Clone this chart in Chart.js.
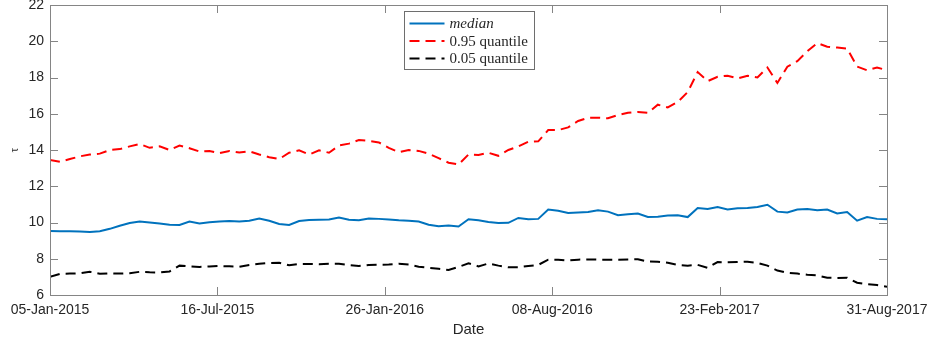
<!DOCTYPE html>
<html>
<head>
<meta charset="utf-8">
<script src="https://cdn.jsdelivr.net/npm/chart.js@4"></script>
<style>
  html, body { margin: 0; padding: 0; background: #fff; }
</style>
</head>
<body>
<canvas id="tau" width="930" height="345"></canvas>
<script>
// values, one sample every ~8 trading days
const tickLabels = ['05-Jan-2015', '16-Jul-2015', '26-Jan-2016', '08-Aug-2016', '23-Feb-2017', '31-Aug-2017'];

const median = [
  9.53, 9.52, 9.52, 9.50, 9.47, 9.52, 9.65, 9.82, 9.97, 10.05,
  10.00, 9.95, 9.88, 9.86, 10.05, 9.95, 10.02, 10.05, 10.08, 10.06,
  10.10, 10.22, 10.10, 9.92, 9.86, 10.08, 10.14, 10.15, 10.17, 10.28,
  10.15, 10.12, 10.22, 10.20, 10.17, 10.12, 10.10, 10.05, 9.88, 9.80,
  9.84, 9.78, 10.18, 10.12, 10.03, 9.97, 9.98, 10.25, 10.18, 10.20,
  10.72, 10.65, 10.52, 10.55, 10.58, 10.68, 10.60, 10.40, 10.45, 10.50,
  10.30, 10.32, 10.38, 10.40, 10.30, 10.80, 10.75, 10.86, 10.72, 10.78,
  10.80, 10.85, 10.98, 10.60, 10.55, 10.72, 10.74, 10.67, 10.72, 10.50,
  10.58, 10.10, 10.30, 10.20, 10.18
];

const q95 = [
  13.45, 13.35, 13.50, 13.65, 13.75, 13.80, 14.00, 14.05, 14.20, 14.33,
  14.12, 14.20, 14.00, 14.25, 14.10, 13.92, 13.95, 13.83, 13.95, 13.86,
  13.93, 13.75, 13.60, 13.50, 13.85, 13.98, 13.75, 13.98, 13.85, 14.25,
  14.35, 14.55, 14.50, 14.42, 14.12, 13.88, 14.00, 13.95, 13.80, 13.55,
  13.30, 13.20, 13.75, 13.72, 13.85, 13.68, 14.00, 14.20, 14.46, 14.48,
  15.10, 15.10, 15.25, 15.60, 15.78, 15.78, 15.75, 15.93, 16.05, 16.10,
  16.05, 16.50, 16.35, 16.65, 17.20, 18.30, 17.80, 18.04, 18.10, 17.95,
  18.10, 18.00, 18.55, 17.70, 18.60, 18.90, 19.45, 19.90, 19.70, 19.65,
  19.60, 18.60, 18.40, 18.55, 18.40
];

const q05 = [
  7.01, 7.16, 7.18, 7.20, 7.28, 7.17, 7.20, 7.18, 7.20, 7.28,
  7.25, 7.24, 7.30, 7.62, 7.58, 7.55, 7.57, 7.60, 7.58, 7.56,
  7.66, 7.72, 7.77, 7.78, 7.64, 7.71, 7.71, 7.70, 7.72, 7.72,
  7.65, 7.60, 7.66, 7.67, 7.68, 7.72, 7.68, 7.56, 7.50, 7.45,
  7.38, 7.55, 7.75, 7.58, 7.74, 7.62, 7.53, 7.53, 7.60, 7.66,
  7.95, 7.95, 7.90, 7.95, 7.96, 7.95, 7.95, 7.95, 7.96, 7.97,
  7.85, 7.84, 7.78, 7.66, 7.62, 7.66, 7.50, 7.82, 7.80, 7.82,
  7.84, 7.77, 7.62, 7.35, 7.22, 7.18, 7.12, 7.08, 6.95, 6.94,
  6.95, 6.68, 6.60, 6.55, 6.46
];

const tickStep = 135;                      // trading days between date ticks
const lastDay = tickStep * (tickLabels.length - 1);
const dayStep = lastDay / (median.length - 1);

const axisGrey = '#858585';
const textGrey = '#262626';
const sans = '"Liberation Sans", Arial, sans-serif';
const serif = '"Liberation Serif", "Times New Roman", serif';

function series(values){
    return values.map((v, i) => ({ x: i * dayStep, y: v }));
}

// box round the axes, with MATLAB style inward ticks on all four sides
const frame = {
  id: 'frame',
  afterDatasetsDraw(chart){
    const { ctx, chartArea: a, scales: { x, y } } = chart;
    ctx.save();
    ctx.strokeStyle = axisGrey;
    ctx.lineWidth = 1;
    ctx.strokeRect(a.left + 0.5, a.top + 0.5, a.right - a.left, a.bottom - a.top);
    ctx.beginPath();
    x.ticks.forEach(t => {
      const px = Math.round(x.getPixelForValue(t.value)) + 0.5;
      ctx.moveTo(px, a.bottom); ctx.lineTo(px, a.bottom - 8);
      ctx.moveTo(px, a.top); ctx.lineTo(px, a.top + 8);
    });
    y.ticks.forEach(t => {
      const py = Math.round(y.getPixelForValue(t.value)) + 0.5;
      ctx.moveTo(a.left, py); ctx.lineTo(a.left + 8, py);
      ctx.moveTo(a.right, py); ctx.lineTo(a.right - 8, py);
    });
    ctx.stroke();
    ctx.restore();
  }
};

// legend drawn by hand so that "median" can be italic
const legendBox = {
  id: 'legendBox',
  afterDraw(chart){
    const { ctx, chartArea: a } = chart;
    const sets = chart.data.datasets;
    const fonts = sets.map((d, i) => (i === 0 ? 'italic ' : '') + '15px ' + serif);
    ctx.save();
    let textW = 0;
    sets.forEach((d, i) => {
      ctx.font = fonts[i];
      textW = Math.max(textW, ctx.measureText(d.label).width);
    });
    const w = Math.round(5 + 35 + 5 + textW + 7);
    const h = 58;
    const bx = Math.round((a.left + a.right - w) / 2) + 0.5;
    const by = a.top + 6.5;
    ctx.fillStyle = '#fff';
    ctx.fillRect(bx, by, w, h);
    ctx.strokeStyle = '#6e6e6e';
    ctx.lineWidth = 1;
    ctx.strokeRect(bx, by, w, h);
    sets.forEach((d, i) => {
      const ry = by + 12 + i * 17.5;
      ctx.beginPath();
      ctx.setLineDash(d.borderDash || []);
      ctx.strokeStyle = d.borderColor;
      ctx.lineWidth = 2;
      ctx.moveTo(bx + 5, ry);
      ctx.lineTo(bx + 40, ry);
      ctx.stroke();
      ctx.setLineDash([]);
      ctx.font = fonts[i];
      ctx.fillStyle = textGrey;
      ctx.textBaseline = 'middle';
      ctx.fillText(d.label, bx + 45, ry + 1);
    });
    ctx.restore();
  }
};

const ctx = document.getElementById('tau');

new Chart(ctx, {
  type: 'line',
  data: {
    datasets: [
      { label: 'median', data: series(median), borderColor: '#0072BD', borderWidth: 2, pointRadius: 0 },
      { label: '0.95 quantile', data: series(q95), borderColor: '#FF0000', borderWidth: 2, borderDash: [10, 6], pointRadius: 0 },
      { label: '0.05 quantile', data: series(q05), borderColor: '#000000', borderWidth: 2, borderDash: [10, 6], pointRadius: 0 }
    ]
  },
  options: {
    responsive: false,
    animation: false,
    devicePixelRatio: 1,
    layout: { padding: { top: 5, right: 43, left: 0, bottom: 0 } },
    plugins: {
      legend: { display: false },
      tooltip: { enabled: false }
    },
    scales: {
      x: {
        type: 'linear',
        min: 0,
        max: lastDay,
        afterBuildTicks: s => { s.ticks = tickLabels.map((t, i) => ({ value: i * tickStep })); },
        afterFit: s => { s.height = 50; s.paddingLeft = 0; s.paddingRight = 0; },
        grid: { display: false, drawTicks: false },
        border: { display: false },
        ticks: {
          autoSkip: false,
          maxRotation: 0,
          padding: 7,
          color: textGrey,
          font: { family: sans, size: 14 },
          callback: v => tickLabels[Math.round(v / tickStep)]
        },
        title: {
          display: true,
          text: 'Date',
          color: textGrey,
          font: { family: sans, size: 15 },
          padding: { top: 0, bottom: 6 }
        }
      },
      y: {
        min: 6,
        max: 22,
        afterFit: s => { s.width = 50; s.paddingTop = 0; s.paddingBottom = 0; },
        grid: { display: false, drawTicks: false },
        border: { display: false },
        ticks: {
          stepSize: 2,
          padding: 6,
          color: textGrey,
          font: { family: sans, size: 14 }
        },
        title: {
          display: true,
          text: 'τ',
          color: textGrey,
          font: { family: serif, size: 12 },
          padding: { top: 8, bottom: 0 }
        }
      }
    }
  },
  plugins: [frame, legendBox]
});
</script>
</body>
</html>
